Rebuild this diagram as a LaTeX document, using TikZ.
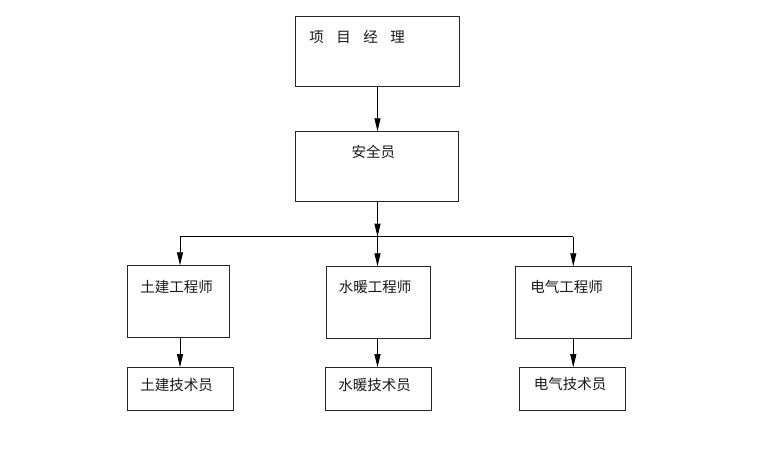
\documentclass[tikz,border=0pt]{standalone}
\usepackage{fontspec}
\newfontfamily\cjk{Noto Sans CJK SC}
\usetikzlibrary{arrows.meta}
\begin{document}
\begin{tikzpicture}[x=1pt,y=-1pt,
  box/.style={draw=black!85,line width=0.9pt,inner sep=0pt,anchor=center},
  lbl/.style={inner sep=0pt,font=\cjk\fontsize{14.5}{17}\selectfont,text=black!90},
  arr/.style={line width=0.9pt,-{Triangle[length=13pt,width=6pt]}},
  ln/.style={line width=0.9pt}]
\useasboundingbox (0,0) rectangle (760,448);
\fill[white] (0,0) rectangle (760,448);
% boxes
\node[box,minimum width=163.6pt,minimum height=70pt] (pm) at (377.5,51.7) {};
\node[box,minimum width=162.6pt,minimum height=70pt] (aq) at (377,166.7) {};
\node[box,minimum width=102pt,minimum height=72pt] (tj) at (178.3,301.7) {};
\node[box,minimum width=103.3pt,minimum height=71.6pt] (sn) at (378.3,302.5) {};
\node[box,minimum width=116pt,minimum height=71.6pt] (dq) at (573.7,302.5) {};
\node[box,minimum width=106pt,minimum height=42.3pt] (tjy) at (180.3,388.8) {};
\node[box,minimum width=106pt,minimum height=42.3pt] (sny) at (378,388.8) {};
\node[box,minimum width=106.7pt,minimum height=42.3pt] (dqy) at (572.3,388.8) {};
% labels
\node[lbl] (pmt) at (357,36.7) {项\hspace{12.5pt}目\hspace{12.5pt}经\hspace{12.5pt}理};
\node[lbl] (aqt) at (373.3,151.7) {安全员};
\node[lbl] (tjt) at (176.7,286.7) {土建工程师};
\node[lbl] (snt) at (375,286.7) {水暖工程师};
\node[lbl] (dqt) at (566.7,286.7) {电气工程师};
\node[lbl] (tjyt) at (176.7,385) {土建技术员};
\node[lbl] (snyt) at (374.7,385) {水暖技术员};
\node[lbl] (dqyt) at (570,384.3) {电气技术员};
% bus
\coordinate (busL) at (180,236.7);
\coordinate (busM) at (377.5,236.7);
\coordinate (busR) at (573.3,236.7);
% connectors
\draw[arr] (pm.south -| busM) -- (aq.north -| busM);
\draw[arr] (aq.south -| busM) -- (busM);
\draw[ln] (busL) -- (busR);
\draw[arr] (busL) -- (busL |- tj.north);
\draw[arr] (busM) -- (busM |- sn.north);
\draw[arr] (busR) -- (busR |- dq.north);
\draw[arr] (tj.south -| busL) -- (tjy.north -| busL);
\draw[arr] (sn.south -| busM) -- (sny.north -| busM);
\draw[arr] (dq.south -| busR) -- (dqy.north -| busR);
\end{tikzpicture}
\end{document}
